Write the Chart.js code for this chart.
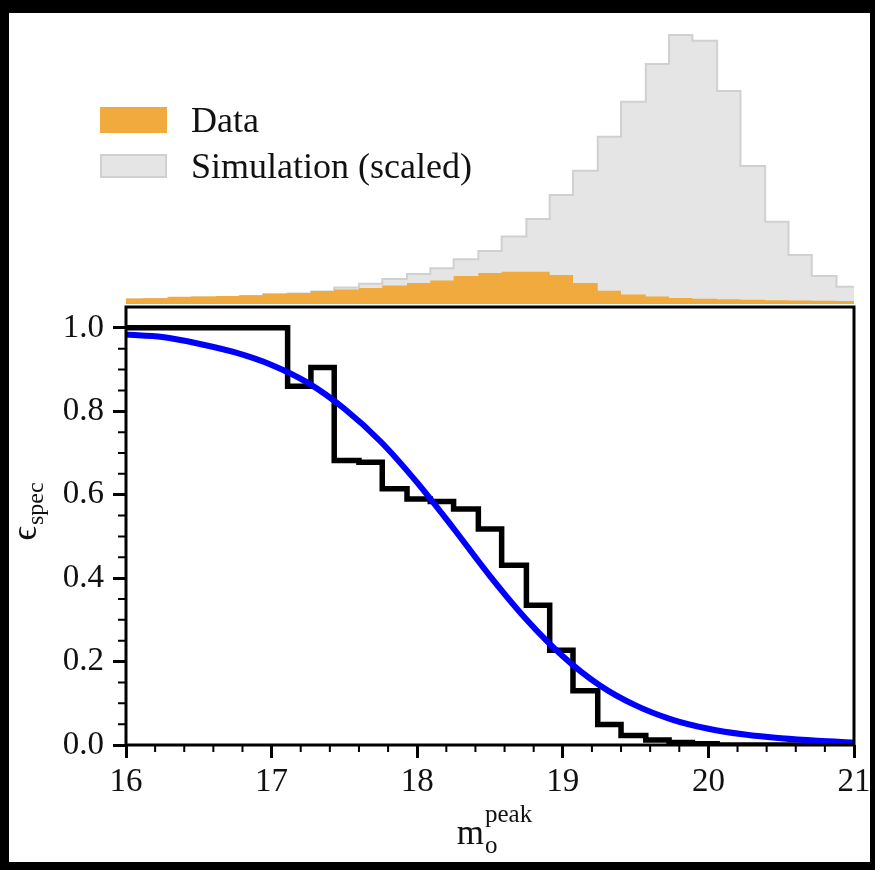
<!DOCTYPE html>
<html>
<head>
<meta charset="utf-8">
<script src="https://cdn.jsdelivr.net/npm/chart.js@4.4.0/dist/chart.umd.min.js"></script>
<style>
  html, body { margin: 0; padding: 0; background: #000; width: 875px; height: 870px; overflow: hidden; }
  #frame { position: absolute; left: 9px; top: 13px; width: 861px; height: 849px; background: #fff; }
  canvas { display: block; }
</style>
</head>
<body>
<div id="frame"><canvas id="effChart" width="861" height="849"></canvas></div>
<script>
// magnitude bin edges shared by the histograms and the efficiency steps
const binEdges = [15.96, 16.12, 16.29, 16.45, 16.62, 16.78, 16.94, 17.11, 17.27, 17.43,
  17.60, 17.76, 17.93, 18.09, 18.25, 18.42, 18.58, 18.75, 18.91, 19.07,
  19.24, 19.40, 19.57, 19.73, 19.89, 20.06, 20.22, 20.39, 20.55, 20.71,
  20.88, 21.04];

// counts per bin (top panel, simulation already scaled)
const dataCounts = [5.5, 5.8, 7.2, 7.5, 8.0, 8.8, 10.5, 11.0, 13.0, 14.5,
  16.0, 18.5, 21.0, 23.5, 28.0, 31.0, 32.3, 32.3, 29.0, 21.0,
  13.3, 9.5, 7.5, 6.0, 5.3, 4.7, 4.2, 3.8, 3.5, 3.3, 3.0];
const simCounts = [4.5, 5.0, 6.0, 6.5, 7.0, 8.0, 9.5, 10.5, 12.5, 16.5,
  20.3, 25.0, 30.0, 35.7, 44.7, 53.0, 67.5, 85.0, 109.0, 133.3,
  167.3, 202.3, 240.0, 269.0, 263.3, 213.0, 138.0, 82.3, 49.0, 28.0, 17.3];

// spectroscopic efficiency per bin
const efficiency = [1, 1, 1, 1, 1, 1, 1, 0.86, 0.905, 0.682,
  0.678, 0.614, 0.590, 0.584, 0.566, 0.518, 0.431, 0.335, 0.227, 0.130,
  0.049, 0.023, 0.012, 0.006, 0.003, 0, 0, 0, 0, 0, 0];

// fitted efficiency curve
const fitMag = [16.0, 16.25, 16.5, 16.75, 17.0, 17.25, 17.5, 17.75, 18.0, 18.25,
  18.5, 18.75, 19.0, 19.25, 19.5, 19.75, 20.0, 20.25, 20.5, 20.75, 21.0];
const fitEff = [0.984, 0.978, 0.962, 0.941, 0.911, 0.868, 0.806, 0.727, 0.629, 0.519,
  0.405, 0.301, 0.213, 0.144, 0.095, 0.061, 0.039, 0.025, 0.016, 0.010, 0.006];

const xTicks = [16, 17, 18, 19, 20, 21];
const yTicks = [0, 0.2, 0.4, 0.6, 0.8, 1.0];

const legendItems = ['Data', 'Simulation (scaled)'];

const ORANGE = '#f1aa3d';
const SIM_FILL = '#e5e5e5';
const SIM_EDGE = '#d0d0d0';
const SERIF = "'Liberation Serif', 'DejaVu Serif', serif";

// one point per left bin edge plus the closing right edge (held value until next edge)
function stepPoints(values) {
  const pts = values.map((v, i) => ({ x: binEdges[i], y: v }));
  pts.push({ x: binEdges[binEdges.length - 1], y: values[values.length - 1] });
  return pts;
}

// spines, minor ticks, legend and axis titles
const decor = {
  id: 'decor',
  afterDatasetsDraw(chart) {
    const { ctx, scales: { x, y } } = chart;
    ctx.save();
    ctx.strokeStyle = '#000';
    ctx.lineWidth = 2;
    ctx.beginPath();
    for (let k = 1; k < 25; k++) {
      if (k % 5 === 0) continue;
      const px = x.getPixelForValue(16 + k * 0.2);
      ctx.moveTo(px, y.bottom);
      ctx.lineTo(px, y.bottom + 7);
    }
    for (let k = 1; k < 20; k++) {
      if (k % 4 === 0) continue;
      const py = y.getPixelForValue(k * 0.05);
      ctx.moveTo(y.right, py);
      ctx.lineTo(y.right - 8, py);
    }
    ctx.stroke();
    ctx.lineWidth = 3;
    ctx.strokeRect(x.left, y.top, x.right - x.left, y.bottom - y.top);
    ctx.restore();
  },
  afterDraw(chart) {
    const { ctx, scales: { x, y } } = chart;
    ctx.save();
    ctx.textAlign = 'left';
    ctx.textBaseline = 'alphabetic';

    // legend
    ctx.fillStyle = ORANGE;
    ctx.fillRect(91, 94, 67, 26);
    ctx.fillStyle = SIM_FILL;
    ctx.fillRect(91, 141, 67, 24);
    ctx.strokeStyle = SIM_EDGE;
    ctx.lineWidth = 2;
    ctx.strokeRect(92, 142, 65, 22);
    ctx.fillStyle = '#111';
    ctx.font = '36px ' + SERIF;
    ctx.fillText(legendItems[0], 182, 119);
    ctx.fillText(legendItems[1], 182, 165);

    // x title: m_o^peak
    const big = '35px ' + SERIF;
    const small = '25px ' + SERIF;
    ctx.font = big;
    const wm = ctx.measureText('m').width;
    ctx.font = small;
    const wp = ctx.measureText('peak').width;
    const x0 = (x.left + x.right) / 2 - (wm + wp) / 2 + 4;
    const base = 831;
    ctx.font = big;
    ctx.fillText('m', x0, base);
    ctx.font = small;
    ctx.fillText('o', x0 + wm + 1, base + 9);
    ctx.fillText('peak', x0 + wm + 1, base - 22);

    // y title: epsilon_spec
    ctx.translate(27, (y.top + y.bottom) / 2 - 14);
    ctx.rotate(-Math.PI / 2);
    ctx.font = '36px ' + SERIF;
    const we = ctx.measureText('\u03f5').width;
    ctx.font = '24px ' + SERIF;
    const ws = ctx.measureText('spec').width;
    const s0 = -(we + ws) / 2;
    ctx.font = '36px ' + SERIF;
    ctx.fillText('\u03f5', s0, 0);
    ctx.font = '24px ' + SERIF;
    ctx.fillText('spec', s0 + we + 1, 7);
    ctx.restore();
  }
};

new Chart(document.getElementById('effChart'), {
  type: 'line',
  data: {
    datasets: [
      {
        label: 'fit',
        data: fitMag.map((m, i) => ({ x: m, y: fitEff[i] })),
        yAxisID: 'y',
        borderColor: '#0000ff',
        borderWidth: 6,
        pointRadius: 0,
        cubicInterpolationMode: 'monotone',
        fill: false,
        clip: 0,
        order: 0
      },
      {
        label: 'efficiency',
        data: stepPoints(efficiency),
        yAxisID: 'y',
        stepped: 'before',
        borderColor: '#000',
        borderWidth: 5.5,
        borderJoinStyle: 'miter',
        pointRadius: 0,
        fill: false,
        clip: 0,
        order: 1
      },
      {
        label: legendItems[0],
        data: stepPoints(dataCounts),
        yAxisID: 'yTop',
        stepped: 'before',
        borderWidth: 0,
        backgroundColor: ORANGE,
        pointRadius: 0,
        fill: { value: 0 },
        clip: 0,
        order: 2
      },
      {
        label: legendItems[1],
        data: stepPoints(simCounts),
        yAxisID: 'yTop',
        stepped: 'before',
        borderColor: SIM_EDGE,
        borderWidth: 2,
        backgroundColor: SIM_FILL,
        pointRadius: 0,
        fill: { value: 0 },
        clip: 0,
        order: 3
      }
    ]
  },
  options: {
    responsive: false,
    animation: false,
    events: [],
    layout: { padding: { top: 11, right: 16, left: 0, bottom: 0 } },
    plugins: { legend: { display: false }, tooltip: { enabled: false } },
    scales: {
      x: {
        type: 'linear',
        min: 16,
        max: 21,
        afterBuildTicks: s => { s.ticks = xTicks.map(v => ({ value: v })); },
        afterFit: s => { s.height = 117; s.paddingLeft = 0; s.paddingRight = 0; },
        border: { display: false },
        grid: { drawOnChartArea: false, drawTicks: true, tickLength: 13, tickWidth: 3, tickColor: '#000' },
        ticks: {
          color: '#111', padding: 5, maxRotation: 0, autoSkip: false,
          font: { family: SERIF, size: 33 },
          callback: v => String(v)
        }
      },
      y: {
        type: 'linear',
        position: 'left',
        stack: 'panels',
        stackWeight: 438,
        weight: 0,
        min: 0,
        max: 1.05,
        afterBuildTicks: s => { s.ticks = yTicks.map(v => ({ value: v })); },
        afterFit: s => { s.width = 117; s.paddingTop = 0; s.paddingBottom = 0; },
        border: { display: false },
        grid: { drawOnChartArea: false, drawTicks: true, tickLength: 13, tickWidth: 3, tickColor: '#000' },
        ticks: {
          color: '#111', padding: 9,
          font: { family: SERIF, size: 33 },
          callback: v => v.toFixed(1)
        }
      },
      yTop: {
        type: 'linear',
        position: 'left',
        stack: 'panels',
        stackWeight: 283,
        weight: 1,
        min: -3,
        max: 280,
        afterFit: s => { s.width = 0; s.paddingTop = 0; s.paddingBottom = 0; },
        border: { display: false },
        grid: { display: false, drawTicks: false },
        ticks: { display: false }
      }
    }
  },
  plugins: [decor]
});
</script>
</body>
</html>
